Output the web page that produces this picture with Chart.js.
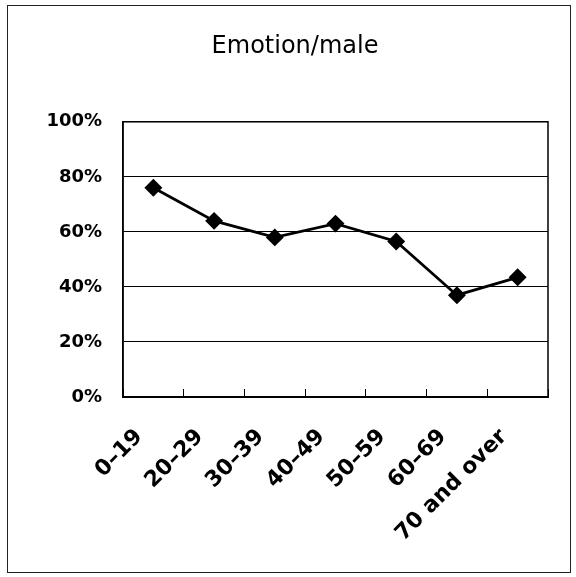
<!DOCTYPE html>
<html>
<head>
<meta charset="utf-8">
<script src="https://cdn.jsdelivr.net/npm/chart.js@4/dist/chart.umd.min.js"></script>
<style>
  html, body { margin: 0; padding: 0; background: #fff; }
  #wrap { position: relative; width: 576px; height: 577px; }
  #frame { position: absolute; left: 7px; top: 5px; width: 564px; height: 568px; border: 1px solid #222; box-sizing: border-box; pointer-events: none; }
  canvas { position: absolute; left: 0; top: 0; }
</style>
</head>
<body>
<div id="wrap">
  <canvas id="c" width="576" height="577"></canvas>
  <div id="frame"></div>
</div>
<script>
const categories = ["0\u201319", "20\u201329", "30\u201339", "40\u201349", "50\u201359", "60\u201369", "70 and over"];
const emotionMale = [76, 64, 58, 63, 56.5, 37, 43.5];
const yTicks = [0, 20, 40, 60, 80, 100];
const chartTitle = "Emotion/male";

const plotBox = {
  id: 'plotBox',
  afterDatasetsDraw(chart) {
    const a = chart.chartArea, ctx = chart.ctx;
    ctx.save();
    ctx.strokeStyle = '#000';
    ctx.lineWidth = 1.5;
    ctx.strokeRect(a.left, a.top, a.right - a.left, a.bottom - a.top);
    ctx.restore();
  }
};

new Chart(document.getElementById('c'), {
  type: 'line',
  data: {
    labels: categories,
    datasets: [{
      data: emotionMale,
      borderColor: '#000',
      backgroundColor: '#000',
      borderWidth: 2.8,
      pointStyle: 'rectRot',
      pointRadius: 7,
      pointHoverRadius: 7,
      tension: 0,
      fill: false
    }]
  },
  options: {
    responsive: false,
    animation: false,
    devicePixelRatio: 1,
    layout: { padding: { left: 42, right: 28, top: 0, bottom: 0 } },
    plugins: {
      legend: { display: false },
      tooltip: { enabled: false },
      title: {
        display: true,
        text: chartTitle,
        color: '#000',
        font: { family: 'DejaVu Sans', size: 24, weight: 'normal' },
        padding: { top: 32, bottom: 61 }
      }
    },
    scales: {
      x: {
        offset: true,
        grid: { display: true, offset: true, drawOnChartArea: false, drawTicks: true, tickLength: -8, tickColor: '#000', color: '#000' },
        border: { display: true, color: '#000', width: 1.5 },
        ticks: {
          color: '#000',
          maxRotation: 45,
          minRotation: 45,
          autoSkip: false,
          padding: 35,
          labelOffset: -14,
          font: { family: 'DejaVu Sans', size: 22, weight: 'bold' }
        },
        afterFit(scale) { scale.height = 180; }
      },
      y: {
        min: 0,
        max: 100,
        afterBuildTicks(scale) { scale.ticks = yTicks.map(v => ({ value: v })); },
        grid: { color: '#000', lineWidth: 1, drawTicks: false },
        border: { display: true, color: '#000', width: 1.5 },
        ticks: {
          color: '#000',
          padding: 21,
          font: { family: 'DejaVu Sans', size: 18, weight: 'bold' },
          callback: v => v + '%'
        },
        afterFit(scale) { scale.width = 81; }
      }
    }
  },
  plugins: [plotBox]
});
</script>
</body>
</html>
